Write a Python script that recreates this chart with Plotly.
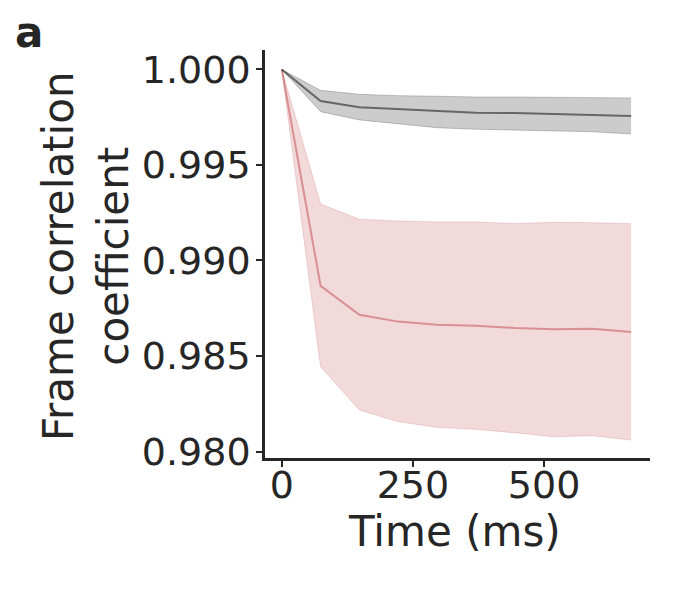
import plotly.graph_objects as go

# ---- data ----
time_ms = [0, 74, 148, 222, 296, 370, 444, 518, 592, 666]

gray_mean  = [1.0000, 0.99835, 0.99802, 0.99792, 0.99781, 0.99774, 0.99772, 0.99767, 0.99762, 0.99757]
gray_upper = [1.0000, 0.99891, 0.99870, 0.99863, 0.99860, 0.99856, 0.99856, 0.99854, 0.99853, 0.99851]
gray_lower = [1.0000, 0.99779, 0.99736, 0.99715, 0.99695, 0.99687, 0.99683, 0.99680, 0.99674, 0.99662]

red_mean  = [1.0000, 0.98867, 0.98716, 0.98680, 0.98664, 0.98659, 0.98647, 0.98640, 0.98643, 0.98626]
red_upper = [1.0000, 0.99296, 0.99216, 0.99207, 0.99202, 0.99202, 0.99193, 0.99200, 0.99198, 0.99193]
red_lower = [1.0000, 0.98444, 0.98217, 0.98156, 0.98127, 0.98116, 0.98098, 0.98077, 0.98083, 0.98060]

y_ticks = [0.980, 0.985, 0.990, 0.995, 1.000]
x_ticks = [0, 250, 500]

FONT = "DejaVu Sans"
INK = "#262626"

fig = go.Figure()

def band(x, lo, hi, mean, rgb):
    fill = f"rgba({rgb},0.2)"
    fig.add_trace(go.Scatter(x=x, y=hi, mode="lines", line=dict(color=fill, width=1),
                             showlegend=False, hoverinfo="skip"))
    fig.add_trace(go.Scatter(x=x, y=lo, mode="lines", line=dict(color=fill, width=1),
                             fill="tonexty", fillcolor=fill, showlegend=False, hoverinfo="skip"))
    fig.add_trace(go.Scatter(x=x, y=mean, mode="lines",
                             line=dict(color=f"rgba({rgb},0.5)", width=2), showlegend=False))

band(time_ms, red_lower, red_upper, red_mean, "190,70,75")
band(time_ms, gray_lower, gray_upper, gray_mean, "0,0,0")

fig.update_layout(
    width=700, height=600,
    margin=dict(l=257, r=58, t=42, b=150),
    plot_bgcolor="white", paper_bgcolor="white",
    font=dict(family=FONT, size=38, color=INK),
    xaxis=dict(range=[-32, 702], tickvals=x_ticks, ticks="outside", ticklen=6, tickwidth=2,
               tickcolor=INK, showline=True, linewidth=2.5, linecolor=INK, showgrid=False,
               zeroline=False, ticklabelstandoff=-14,
               tickfont=dict(size=38, family=FONT, color=INK)),
    yaxis=dict(range=[0.97966, 1.00102], tickvals=y_ticks, tickformat=".3f", ticks="outside",
               ticklen=6, tickwidth=2, tickcolor=INK, showline=True, linewidth=2.5, linecolor=INK,
               showgrid=False, zeroline=False, ticklabelstandoff=-2,
               tickfont=dict(size=38, family=FONT, color=INK)),
    annotations=[
        dict(text="Time (ms)", xref="paper", yref="paper", x=0.4935, y=-0.179,
             xanchor="center", yanchor="middle", showarrow=False,
             font=dict(size=42, family=FONT, color=INK)),
        dict(text="Frame correlation<br>coefficient", xref="paper", yref="paper",
             x=-0.4636, y=0.4939, xanchor="center", yanchor="middle", textangle=-90,
             showarrow=False, font=dict(size=42, family=FONT, color=INK)),
        dict(text="<b>a</b>", xref="paper", yref="paper", x=-0.613, y=1.044,
             xanchor="center", yanchor="middle", showarrow=False,
             font=dict(size=42, family=FONT, color=INK)),
    ],
)

fig.write_html("out.html")
